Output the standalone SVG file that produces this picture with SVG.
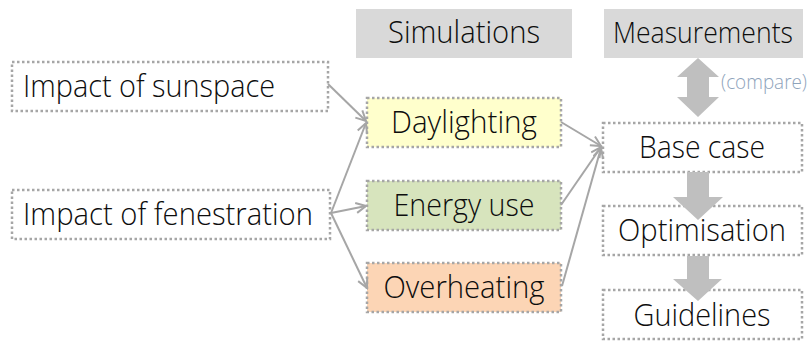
<svg xmlns="http://www.w3.org/2000/svg" width="811" height="341" viewBox="0 0 811 341">
  <style>
    .lbl { font-family: "Open Sans", "Lato", "Liberation Sans", sans-serif; font-weight: 300; font-size: 31px; fill: #0d0d0d; text-anchor: middle; }
    .small { font-family: "Open Sans", "Lato", "Liberation Sans", sans-serif; font-weight: 300; font-size: 20px; fill: #8ea3bb; }
    .box { fill: #ffffff; stroke: #a6a6a6; stroke-width: 2.5; stroke-dasharray: 2.5 2.5; }
    .hdr { fill: #d9d9d9; }
    .conn { fill: none; stroke: #a6a6a6; stroke-width: 2; }
    .block { fill: #bfbfbf; }
  </style>
  <defs>
    <marker id="open" markerUnits="userSpaceOnUse" markerWidth="14" markerHeight="14" refX="11" refY="6" orient="auto">
      <path d="M1,1 L11,6 L1,11" fill="none" stroke="#a6a6a6" stroke-width="2" stroke-linejoin="miter"/>
    </marker>
  </defs>

  <!-- column headers -->
  <g id="simulations">
    <rect class="hdr" x="356" y="9" width="216" height="49"/>
    <text class="lbl" x="464" y="43" textLength="152" lengthAdjust="spacingAndGlyphs">Simulations</text>
  </g>
  <g id="measurements">
    <rect class="hdr" x="604" y="9" width="199" height="49"/>
    <text class="lbl" x="703" y="43" style="font-size:30px" textLength="180" lengthAdjust="spacingAndGlyphs">Measurements</text>
  </g>

  <!-- inputs -->
  <g id="sunspace">
    <rect class="box" x="12" y="62" width="316" height="49"/>
    <text class="lbl" x="149" y="97" textLength="252" lengthAdjust="spacingAndGlyphs">Impact of sunspace</text>
  </g>
  <g id="fenestration">
    <rect class="box" x="12" y="190" width="318" height="49"/>
    <text class="lbl" x="168" y="225" textLength="290" lengthAdjust="spacingAndGlyphs">Impact of fenestration</text>
  </g>

  <!-- simulation topics -->
  <g id="daylighting">
    <rect class="box" x="367" y="98" width="194" height="49" style="fill:#ffffcc"/>
    <text class="lbl" x="464" y="133" textLength="146" lengthAdjust="spacingAndGlyphs">Daylighting</text>
  </g>
  <g id="energy-use">
    <rect class="box" x="367" y="181" width="194" height="49" style="fill:#d7e4bd"/>
    <text class="lbl" x="464" y="216" textLength="141" lengthAdjust="spacingAndGlyphs">Energy use</text>
  </g>
  <g id="overheating">
    <rect class="box" x="367" y="263" width="194" height="49" style="fill:#fcd5b5"/>
    <text class="lbl" x="464" y="298" textLength="161" lengthAdjust="spacingAndGlyphs">Overheating</text>
  </g>

  <!-- workflow -->
  <g id="base-case">
    <rect class="box" x="603" y="123" width="199" height="49"/>
    <text class="lbl" x="702" y="158" textLength="126" lengthAdjust="spacingAndGlyphs">Base case</text>
  </g>
  <g id="optimisation">
    <rect class="box" x="603" y="206" width="199" height="49"/>
    <text class="lbl" x="702" y="241" textLength="168" lengthAdjust="spacingAndGlyphs">Optimisation</text>
  </g>
  <g id="guidelines">
    <rect class="box" x="603" y="290" width="199" height="49"/>
    <text class="lbl" x="702" y="326" textLength="137" lengthAdjust="spacingAndGlyphs">Guidelines</text>
  </g>

  <g id="connectors">
    <!-- thin arrows -->
    <line class="conn" x1="328" y1="84" x2="366" y2="121" marker-end="url(#open)"/>
    <line class="conn" x1="331" y1="213" x2="366" y2="123" marker-end="url(#open)"/>
    <line class="conn" x1="331" y1="213" x2="366" y2="206" marker-end="url(#open)"/>
    <line class="conn" x1="331" y1="213" x2="367" y2="288" marker-end="url(#open)"/>
    <line class="conn" x1="561" y1="122" x2="601" y2="146" marker-end="url(#open)"/>
    <line class="conn" x1="561" y1="205" x2="601" y2="147" marker-end="url(#open)"/>
    <line class="conn" x1="562" y1="286" x2="601" y2="148" marker-end="url(#open)"/>

    <!-- compare: double-headed block arrow -->
    <polygon class="block" points="698,58 719,77 709,77 709,97 719,97 698,117 677,97 687,97 687,77 677,77"/>
    <text class="small" x="721" y="89" textLength="86" lengthAdjust="spacingAndGlyphs">(compare)</text>

    <!-- workflow block arrows -->
    <polygon class="block" points="687,172 709,172 709,197 723,197 698,220 673,197 687,197"/>
    <polygon class="block" points="687,256 709,256 709,279 722,279 698,301 673,279 687,279"/>
  </g>
</svg>
